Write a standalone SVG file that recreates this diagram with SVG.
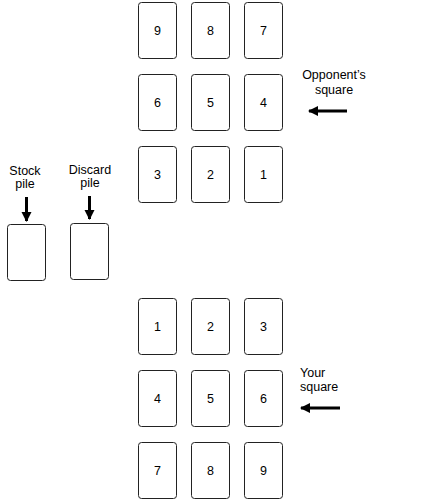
<svg xmlns="http://www.w3.org/2000/svg" width="443" height="502" viewBox="0 0 443 502">
<defs>
<style>
.card{fill:#fff;stroke:#222;stroke-width:1}
.num{font-family:"Liberation Sans",Arial,sans-serif;font-size:12.5px;fill:#000;text-anchor:middle}
.lbl{font-family:"Liberation Sans",Arial,sans-serif;font-size:12.5px;fill:#000;text-anchor:middle}
.arr{stroke:#000;stroke-width:3;fill:none}
</style>
<marker id="ah" viewBox="0 0 10 10" refX="9" refY="5" markerWidth="3.4" markerHeight="3.4" orient="auto" markerUnits="strokeWidth">
<path d="M0,0 L10,5 L0,10 Z" fill="#000"/>
</marker>
</defs>
<rect width="443" height="502" fill="#fff"/>
<g id="opp">
<g id="o9"><rect class="card" x="138.5" y="2.5" width="38" height="56" rx="3"/><text class="num" x="157.5" y="35">9</text></g>
<g id="o8"><rect class="card" x="191.5" y="2.5" width="38" height="56" rx="3"/><text class="num" x="210.5" y="35">8</text></g>
<g id="o7"><rect class="card" x="244.5" y="2.5" width="38" height="56" rx="3"/><text class="num" x="263.5" y="35">7</text></g>
<g id="o6"><rect class="card" x="138.5" y="74.5" width="38" height="56" rx="3"/><text class="num" x="157.5" y="107">6</text></g>
<g id="o5"><rect class="card" x="191.5" y="74.5" width="38" height="56" rx="3"/><text class="num" x="210.5" y="107">5</text></g>
<g id="o4"><rect class="card" x="244.5" y="74.5" width="38" height="56" rx="3"/><text class="num" x="263.5" y="107">4</text></g>
<g id="o3"><rect class="card" x="138.5" y="146.5" width="38" height="56" rx="3"/><text class="num" x="157.5" y="179">3</text></g>
<g id="o2"><rect class="card" x="191.5" y="146.5" width="38" height="56" rx="3"/><text class="num" x="210.5" y="179">2</text></g>
<g id="o1"><rect class="card" x="244.5" y="146.5" width="38" height="56" rx="3"/><text class="num" x="263.5" y="179">1</text></g>
</g>
<g id="yours">
<g id="y1"><rect class="card" x="138.5" y="298.5" width="38" height="56" rx="3"/><text class="num" x="157.5" y="331">1</text></g>
<g id="y2"><rect class="card" x="191.5" y="298.5" width="38" height="56" rx="3"/><text class="num" x="210.5" y="331">2</text></g>
<g id="y3"><rect class="card" x="244.5" y="298.5" width="38" height="56" rx="3"/><text class="num" x="263.5" y="331">3</text></g>
<g id="y4"><rect class="card" x="138.5" y="370.5" width="38" height="56" rx="3"/><text class="num" x="157.5" y="403">4</text></g>
<g id="y5"><rect class="card" x="191.5" y="370.5" width="38" height="56" rx="3"/><text class="num" x="210.5" y="403">5</text></g>
<g id="y6"><rect class="card" x="244.5" y="370.5" width="38" height="56" rx="3"/><text class="num" x="263.5" y="403">6</text></g>
<g id="y7"><rect class="card" x="138.5" y="442.5" width="38" height="56" rx="3"/><text class="num" x="157.5" y="475">7</text></g>
<g id="y8"><rect class="card" x="191.5" y="442.5" width="38" height="56" rx="3"/><text class="num" x="210.5" y="475">8</text></g>
<g id="y9"><rect class="card" x="244.5" y="442.5" width="38" height="56" rx="3"/><text class="num" x="263.5" y="475">9</text></g>
</g>
<g id="stock"><rect class="card" x="7.5" y="224.5" width="38" height="56" rx="3"/></g>
<g id="discard"><rect class="card" x="70.5" y="223.5" width="38" height="56" rx="3"/></g>
<g id="labels">
<text class="lbl" x="25" y="175">Stock</text>
<text class="lbl" x="25" y="188">pile</text>
<text class="lbl" x="90" y="174">Discard</text>
<text class="lbl" x="90" y="187">pile</text>
<text class="lbl" x="334" y="79">Opponent’s</text>
<text class="lbl" x="334" y="94">square</text>
<text class="lbl" x="300" y="377" style="text-anchor:start">Your</text>
<text class="lbl" x="300" y="391" style="text-anchor:start">square</text>
</g>
<g id="connectors">
<line class="arr" x1="26.5" y1="197" x2="26.5" y2="221" marker-end="url(#ah)"/>
<line class="arr" x1="89.5" y1="196" x2="89.5" y2="219" marker-end="url(#ah)"/>
<line class="arr" x1="347" y1="111" x2="309" y2="111" marker-end="url(#ah)"/>
<line class="arr" x1="340" y1="408" x2="301" y2="408" marker-end="url(#ah)"/>
</g>
</svg>
